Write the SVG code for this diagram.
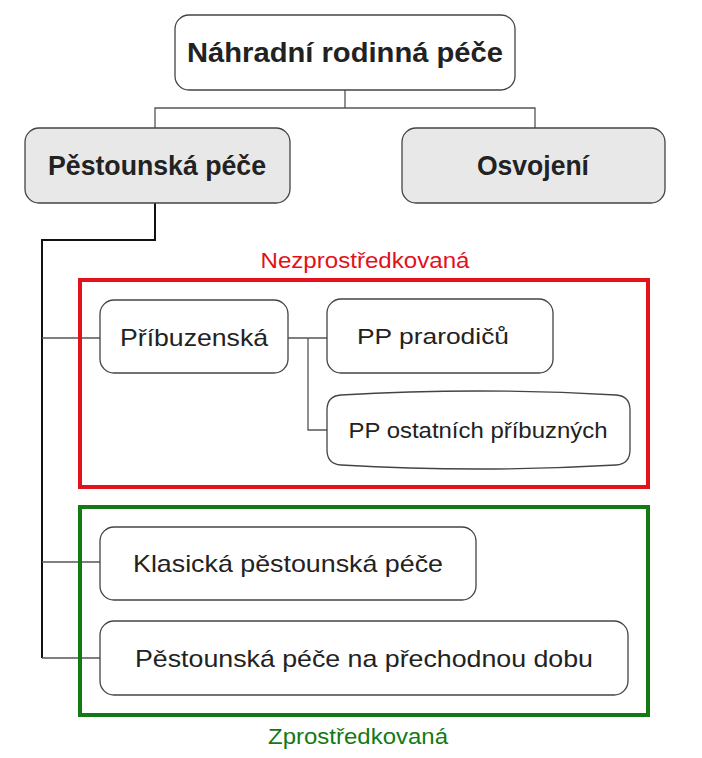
<svg xmlns="http://www.w3.org/2000/svg" width="702" height="758" viewBox="0 0 702 758">
<style>
.b{fill:#fff;stroke:#444;stroke-width:1.3}
.g{fill:#e8e8e8;stroke:#444;stroke-width:1.3}
.t{font-family:"Liberation Sans",Arial,sans-serif;fill:#222;text-anchor:middle}
.h{font-size:27px;font-weight:bold}
.n{font-size:24px}
.s{font-size:22px}
.c{fill:none;stroke:#555;stroke-width:1.3}
</style>
<rect width="702" height="758" fill="#fff"/>
<g id="connectors">
<path class="c" d="M345 90V108M155 128V108H535V128"/>
<path fill="none" stroke="#111" stroke-width="2" d="M155 203V240H42V658"/>
<path class="c" d="M42 338H100M42 562H100M42 658H100M288 338H327M308 338V430H327"/>
</g>
<g id="frames">
<rect x="80" y="280" width="568" height="207" fill="none" stroke="#e3111a" stroke-width="4"/>
<text class="t s" x="365" y="268" textLength="209" lengthAdjust="spacingAndGlyphs" style="fill:#e3111a">Nezprostředkovaná</text>
<rect x="80" y="507" width="568" height="208" fill="none" stroke="#137a13" stroke-width="4"/>
<text class="t s" x="358" y="744" textLength="180" lengthAdjust="spacingAndGlyphs" style="fill:#137a13">Zprostředkovaná</text>
</g>
<g id="root"><rect class="b" x="175" y="15" width="340" height="75" rx="14"/><text class="t h" x="345" y="62" textLength="316" lengthAdjust="spacingAndGlyphs">Náhradní rodinná péče</text></g>
<g id="pestounska"><rect class="g" x="25" y="128" width="265" height="75" rx="14"/><text class="t h" x="157" y="175" textLength="218" lengthAdjust="spacingAndGlyphs">Pěstounská péče</text></g>
<g id="osvojeni"><rect class="g" x="402" y="128" width="263" height="75" rx="14"/><text class="t h" x="533" y="175" textLength="112" lengthAdjust="spacingAndGlyphs">Osvojení</text></g>
<g id="pribuzenska"><rect class="b" x="100" y="300" width="188" height="73" rx="14"/><text class="t n" x="194" y="346" textLength="148" lengthAdjust="spacingAndGlyphs">Příbuzenská</text></g>
<g id="prarodicu"><rect class="b" x="327" y="299" width="226" height="74" rx="14"/><text class="t s" x="433" y="344" textLength="152" lengthAdjust="spacingAndGlyphs">PP prarodičů</text></g>
<g id="ostatnich"><path class="b" d="M327 410Q327 396 341 395Q478 387 616 395Q630 396 630 410V450Q630 464 616 465Q478 473 341 465Q327 464 327 450Z"/><text class="t s" x="478" y="438" textLength="259" lengthAdjust="spacingAndGlyphs">PP ostatních příbuzných</text></g>
<g id="klasicka"><rect class="b" x="100" y="527" width="376" height="73" rx="14"/><text class="t n" x="288" y="572" textLength="310" lengthAdjust="spacingAndGlyphs">Klasická pěstounská péče</text></g>
<g id="prechodnou"><rect class="b" x="100" y="621" width="528" height="74" rx="14"/><text class="t n" x="364" y="667" textLength="458" lengthAdjust="spacingAndGlyphs">Pěstounská péče na přechodnou dobu</text></g>
</svg>
